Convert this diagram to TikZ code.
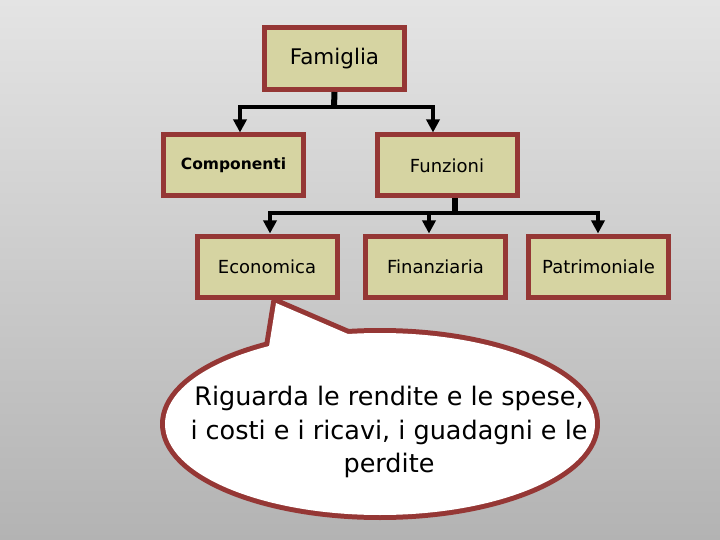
\documentclass[tikz,border=0pt]{standalone}
\usepackage{fontspec}
\setmainfont{DejaVu Sans}
\usetikzlibrary{arrows.meta,calc,shadings}
\definecolor{boxred}{HTML}{953735}
\definecolor{boxfill}{HTML}{D6D4A2}
\definecolor{bgtop}{HTML}{E4E4E4}
\definecolor{bgbot}{HTML}{B3B3B3}
\tikzset{
  box/.style={draw=boxred, line width=5pt, fill=boxfill, minimum width=140pt, minimum height=61pt, inner sep=0pt, font=\fontsize{18}{21}\selectfont},
  bar/.style={line width=4pt, black},
  stem/.style={line width=6pt, black},
  arr/.style={line width=4pt, black, -{Triangle[length=13pt,width=13pt]}},
}
\begin{document}
\begin{tikzpicture}[x=1pt,y=-1pt]
\useasboundingbox (0,0) rectangle (720,540);
\shade[top color=bgtop, bottom color=bgbot] (0,0) rectangle (720,540);

\node[box, minimum height=62pt, font=\fontsize{21.5}{24}\selectfont] (fam) at (334.5,58.5) {Famiglia};
\node[box, font=\bfseries\fontsize{15.5}{18}\selectfont] (comp) at (233.5,165.5) {Componenti};
\node[box] (funz) at (447,165.5) {Funzioni};
\node[box] (eco) at (267,266.5) {Economica};
\node[box] (fin) at (435.5,266.5) {Finanziaria};
\node[box] (pat) at (598.5,266.5) {Patrimoniale};

% first level connectors
\coordinate (j1) at (334,107);
\coordinate (l1) at (240,107);
\coordinate (r1) at (433,107);
\draw[stem] (fam.south) -- (j1);
\draw[bar, line cap=rect] (l1) -- (r1);
\draw[arr] (l1) -- (l1 |- comp.north);
\draw[arr] (r1) -- (r1 |- funz.north);

% second level connectors
\coordinate (j2) at (455,213);
\coordinate (l2) at (270,213);
\coordinate (m2) at (429,213);
\coordinate (r2) at (598,213);
\draw[stem] (funz.south -| j2) -- (j2);
\draw[bar, line cap=rect] (l2) -- (r2);
\draw[arr] (l2) -- (l2 |- eco.north);
\draw[arr] (m2) -- (m2 |- fin.north);
\draw[arr] (r2) -- (r2 |- pat.north);

% callout
\coordinate (tip) at (276,303);
\coordinate (tl) at (266,365);
\coordinate (tr) at (370,343.5);
\path[draw=boxred, line width=10pt, fill=white, line join=round] (380,424) ellipse [x radius=215, y radius=91];
\path[draw=boxred, line width=10pt, fill=white, line join=miter] (tl) -- (tip) -- (tr) -- cycle;
\fill[white] (380,424) ellipse [x radius=215, y radius=91];
\fill[white] (tl) -- (tip) -- (tr) -- cycle;
\node[align=center, font=\fontsize{25.5}{33.5}\selectfont, inner sep=0pt] (txt) at (389,432)
  {Riguarda le rendite e le spese,\\ i costi e i ricavi, i guadagni e le\\ perdite};
\end{tikzpicture}
\end{document}
